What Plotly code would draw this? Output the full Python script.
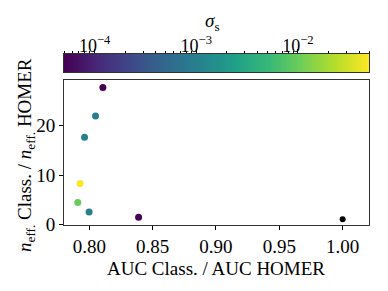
import numpy as np
import plotly.graph_objects as go

# data
auc_ratio = [0.8107, 0.8049, 0.7962, 0.7927, 0.7909, 0.7998, 0.8389]
neff_ratio = [27.8, 22.0, 17.65, 8.3, 4.4, 2.5, 1.42]
sigma_s = [5e-5, 1e-3, 1e-3, 5e-2, 1e-2, 1e-3, 5e-5]
homer_auc = [1.0]
homer_neff = [1.0]

x_ticks = [0.80, 0.85, 0.90, 0.95, 1.00]
x_ticklabels = ["0.80", "0.85", "0.90", "0.95", "1.00"]
y_ticks = [0, 10, 20]
cb_ticks = [-4, -3, -2]
cb_ticklabels = ["10<sup>−4</sup>", "10<sup>−3</sup>", "10<sup>−2</sup>"]

logs = np.log10(sigma_s)
cmin, cmax = float(logs.min()), float(logs.max())

FONT = "Liberation Serif"

fig = go.Figure()
fig.add_trace(go.Scatter(
    x=auc_ratio, y=neff_ratio, mode="markers",
    marker=dict(color=logs, colorscale="Viridis", cmin=cmin, cmax=cmax, size=7, line=dict(width=0)),
    showlegend=False, xaxis="x", yaxis="y"))
fig.add_trace(go.Scatter(
    x=homer_auc, y=homer_neff, mode="markers",
    marker=dict(color="black", size=6, line=dict(width=0)),
    showlegend=False, xaxis="x", yaxis="y"))

# colorbar as gradient heatmap
cb_x = np.linspace(cmin, cmax, 300)
fig.add_trace(go.Heatmap(
    x=cb_x, y=[0], z=[cb_x], colorscale="Viridis", zmin=cmin, zmax=cmax,
    showscale=False, xaxis="x2", yaxis="y2", hoverinfo="skip"))

minor_vals = [np.log10(k * 10.0 ** e) for e in range(-5, -1) for k in range(2, 10)]
minor_vals = [v for v in minor_vals if cmin <= v <= cmax]

W, H = 380, 283
OFF = 8  # page body margin
L, R, T, B = 56, 19, 12, 66
ph = H - T - B
pw = W - L - R
def fy(page_px):
    return (H - B - (page_px - OFF)) / ph
def fx(page_px):
    return (page_px - OFF - L) / pw

fig.update_layout(
    width=W, height=H,
    margin=dict(l=L, r=R, t=T, b=B, autoexpand=False),
    paper_bgcolor="white", plot_bgcolor="white",
    font=dict(family=FONT, size=18, color="black"),
    xaxis=dict(domain=[0, 1], range=[0.780, 1.0208], tickvals=x_ticks, ticktext=x_ticklabels,
               ticks="outside", ticklen=4, tickwidth=1, tickcolor="black",
               showline=True, linecolor="#333", linewidth=1, mirror=True,
               showgrid=False, zeroline=False, anchor="y", automargin=False,
               tickfont=dict(size=19)),
    yaxis=dict(domain=[0, fy(80)], range=[-0.15, 29.3], tickvals=y_ticks,
               ticks="outside", ticklen=4, tickwidth=1, tickcolor="black",
               showline=True, linecolor="#333", linewidth=1, mirror=True,
               showgrid=False, zeroline=False, anchor="x", automargin=False,
               tickfont=dict(size=19)),
    xaxis2=dict(domain=[0, 1], range=[cmin, cmax], side="top", anchor="y2", automargin=False,
                tickvals=cb_ticks, ticktext=cb_ticklabels, ticklabelstandoff=-10,
                ticks="outside", ticklen=4, tickwidth=1, tickcolor="black",
                minor=dict(tickmode="array", tickvals=minor_vals, ticks="outside", ticklen=2,
                           tickcolor="black", tickwidth=1),
                showline=True, linecolor="#333", linewidth=1, mirror=True,
                showgrid=False, zeroline=False,
                tickfont=dict(size=18)),
    yaxis2=dict(domain=[fy(72), fy(54)], range=[-0.5, 0.5], anchor="x2", automargin=False,
                showticklabels=False, ticks="", showline=True, linecolor="#333",
                linewidth=1, mirror=True, showgrid=False, zeroline=False),
    annotations=[
        dict(text="<i>σ</i><sub>s</sub>", x=fx(212), y=fy(22), xref="paper", yref="paper",
             xanchor="center", yanchor="middle", showarrow=False, font=dict(size=19)),
        dict(text="<i>n</i><sub>eff.</sub> Class. / <i>n</i><sub>eff.</sub> HOMER",
             textangle=-90, x=fx(26), y=fy(155), xref="paper", yref="paper",
             xanchor="center", yanchor="middle", showarrow=False, font=dict(size=19)),
        dict(text="AUC Class. / AUC HOMER", x=fx(216), y=fy(268), xref="paper", yref="paper",
             xanchor="center", yanchor="middle", showarrow=False, font=dict(size=19)),
    ],
)

fig.write_html("out.html")
